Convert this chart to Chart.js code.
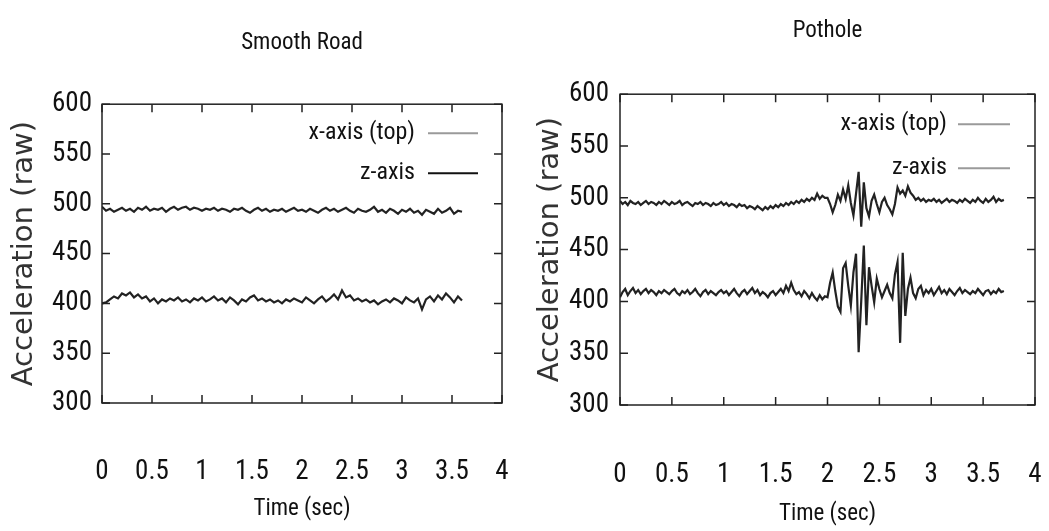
<!DOCTYPE html>
<html>
<head>
<meta charset="utf-8">
<script src="https://cdn.jsdelivr.net/npm/chart.js@4.4.1/dist/chart.umd.min.js"></script>
<style>
  html, body { margin: 0; padding: 0; background: #fff; }
  #wrap { position: relative; width: 1049px; height: 531px; overflow: hidden; }
  #smooth { position: absolute; left: 0; top: 0; }
  #pothole { position: absolute; left: 525px; top: 0; }
</style>
</head>
<body>
<div id="wrap">
  <canvas id="smooth" width="520" height="531"></canvas>
  <canvas id="pothole" width="524" height="531"></canvas>
</div>
<script>
// sampling steps (sec) for the two recordings
var smoothStep = 0.04;
var potholeStep = 0.025;

var xTicks = [0, 0.5, 1, 1.5, 2, 2.5, 3, 3.5, 4];
var yTicks = [300, 350, 400, 450, 500, 550, 600];
var seriesLabels = ['x-axis (top)', 'z-axis'];

// Smooth road, raw acceleration
var smoothX = [
  497,493,495,492,494,496,493,495,492,496,
  494,497,493,495,494,496,492,495,497,494,
  496,497,494,496,495,493,495,494,496,493,
  495,494,492,495,494,496,493,491,494,496,
  493,495,492,494,493,495,492,494,496,493,
  494,492,495,493,491,494,496,493,495,492,
  494,496,493,491,495,493,492,494,497,492,
  494,491,495,493,490,494,492,495,491,493,
  489,494,492,490,495,491,493,496,490,493,
  492
];
var smoothZ = [
  400,401,404,407,405,410,408,411,406,409,
  405,407,402,405,400,404,402,405,403,406,
  402,404,401,405,403,406,402,404,407,403,
  405,401,406,403,399,404,402,406,408,403,
  405,402,404,401,403,400,404,402,405,403,
  401,406,403,400,404,407,402,405,409,404,
  413,406,408,403,405,402,404,401,403,399,
  402,404,401,405,403,400,406,403,401,405,
  394,404,407,402,408,404,410,406,401,407,
  403
];

// Pothole, raw acceleration
var potholeX = [
  497,494,496,493,497,495,494,496,493,495,
  497,494,496,495,493,496,494,497,495,493,
  496,494,495,497,493,495,496,494,492,495,
  494,496,493,495,494,492,495,493,494,496,
  493,495,492,494,493,491,494,492,493,490,
  492,491,489,492,490,488,491,489,492,490,
  493,491,494,492,495,493,496,494,497,495,
  498,496,499,497,500,498,504,499,502,500,
  500,494,486,493,503,497,508,499,512,495,
  483,504,525,472,515,490,482,497,503,494,
  486,496,500,493,489,484,494,510,504,507,
  502,511,505,502,498,500,497,499,496,498,
  497,499,496,498,495,497,499,496,498,497,
  495,498,496,499,497,495,498,496,500,497,
  495,499,496,498,501,496,499,497,498
];
var potholeZ = [
  404,409,412,406,410,413,408,411,407,410,
  412,408,411,409,406,410,408,411,409,407,
  410,412,408,406,410,408,411,407,409,412,
  408,405,409,411,407,410,408,406,409,411,
  408,410,406,409,412,408,405,409,411,407,
  410,413,408,411,406,409,407,404,408,410,
  406,409,412,408,415,410,418,411,407,409,
  405,410,407,403,408,404,401,406,402,405,
  404,418,428,410,395,390,432,437,415,396,
  428,446,351,400,454,377,433,415,399,422,
  412,404,410,416,408,403,426,438,360,447,
  386,412,423,408,403,412,415,406,411,408,
  412,406,410,414,408,411,407,412,409,406,
  410,413,408,411,409,407,410,408,412,409,
  406,410,411,407,410,408,412,409,410
];

function toPoints(values, step) {
  return values.map(function (v, i) { return { x: +(i * step).toFixed(3), y: v }; });
}

var narrow = "'Liberation Sans Narrow', 'Arial Narrow', 'Roboto Condensed', 'DejaVu Sans Condensed', sans-serif";

// gnuplot style frame with inward ticks on all four sides
var framePlugin = {
  id: 'frame',
  afterDatasetsDraw: function (chart) {
    var ctx = chart.ctx, a = chart.chartArea;
    var xs = chart.scales.x, ys = chart.scales.y;
    var len = 8;
    ctx.save();
    ctx.strokeStyle = '#222';
    ctx.lineWidth = 1.5;
    ctx.strokeRect(a.left, a.top, a.right - a.left, a.bottom - a.top);
    ctx.beginPath();
    xs.ticks.forEach(function (t) {
      var px = xs.getPixelForValue(t.value);
      ctx.moveTo(px, a.bottom); ctx.lineTo(px, a.bottom - len);
      ctx.moveTo(px, a.top); ctx.lineTo(px, a.top + len);
    });
    ys.ticks.forEach(function (t) {
      var py = ys.getPixelForValue(t.value);
      ctx.moveTo(a.left, py); ctx.lineTo(a.left + len, py);
      ctx.moveTo(a.right, py); ctx.lineTo(a.right - len, py);
    });
    ctx.stroke();
    ctx.restore();
  }
};

// key drawn inside the plot, right aligned like gnuplot
var keyPlugin = {
  id: 'key',
  afterDraw: function (chart, args, opts) {
    var ctx = chart.ctx, a = chart.chartArea;
    ctx.save();
    ctx.font = '24px ' + narrow;
    ctx.textAlign = 'right';
    ctx.textBaseline = 'middle';
    chart.data.datasets.forEach(function (ds, i) {
      var y = a.top + opts.rows[i];
      ctx.fillStyle = '#111';
      ctx.fillText(ds.label, a.right - opts.textRight, y);
      ctx.strokeStyle = ds.keyColor;
      ctx.lineWidth = 2;
      ctx.beginPath();
      ctx.moveTo(a.right - opts.swatchFrom, y);
      ctx.lineTo(a.right - opts.swatchTo, y);
      ctx.stroke();
    });
    ctx.restore();
  }
};

function makeChart(id, title, step, xVals, zVals, keyColors, lay) {
  return new Chart(document.getElementById(id), {
    type: 'line',
    data: {
      datasets: [
        {
          label: seriesLabels[0],
          data: toPoints(xVals, step),
          borderColor: '#222',
          keyColor: keyColors[0],
          borderWidth: 2.2,
          pointRadius: 0,
          tension: 0
        },
        {
          label: seriesLabels[1],
          data: toPoints(zVals, step),
          borderColor: '#222',
          keyColor: keyColors[1],
          borderWidth: 2.2,
          pointRadius: 0,
          tension: 0
        }
      ]
    },
    options: {
      animation: false,
      responsive: false,
      layout: { padding: { left: 0, right: lay.right, top: 0, bottom: 0 } },
      plugins: {
        legend: { display: false },
        tooltip: { enabled: false },
        title: {
          display: true,
          fullSize: false,
          text: title,
          color: '#111',
          font: { family: narrow, size: 23, weight: 'normal' },
          padding: { top: lay.titleTop, bottom: lay.titleBottom }
        },
        key: lay.key
      },
      scales: {
        x: {
          type: 'linear',
          min: 0,
          max: 4,
          afterBuildTicks: function (s) { s.ticks = xTicks.map(function (v) { return { value: v }; }); },
          afterFit: function (s) { s.height = lay.xHeight; },
          // invisible tick marks only push the labels down
          grid: { display: true, drawOnChartArea: false, drawTicks: true, tickLength: lay.xPad, color: 'rgba(0,0,0,0)' },
          border: { display: false },
          ticks: {
            color: '#111',
            padding: 0,
            maxRotation: 0,
            autoSkip: false,
            font: { family: narrow, size: 27 },
            callback: function (v) { return String(v); }
          },
          title: {
            display: true,
            text: 'Time (sec)',
            color: '#111',
            font: { family: narrow, size: 23 },
            padding: { top: 0, bottom: lay.xTitleBottom }
          }
        },
        y: {
          min: 300,
          max: 600,
          afterBuildTicks: function (s) { s.ticks = yTicks.map(function (v) { return { value: v }; }); },
          afterFit: function (s) { s.width = lay.yWidth; },
          grid: { display: false, drawTicks: false },
          border: { display: false },
          ticks: {
            color: '#111',
            padding: lay.yPad,
            autoSkip: false,
            font: { family: narrow, size: 27 }
          },
          title: {
            display: true,
            text: 'Acceleration (raw)',
            color: '#333',
            font: { family: "'DejaVu Sans', sans-serif", size: 29 },
            padding: { top: lay.yTitleTop, bottom: 0 }
          }
        }
      }
    },
    plugins: [framePlugin, keyPlugin]
  });
}

var smoothChart = makeChart('smooth', 'Smooth Road', smoothStep, smoothX, smoothZ, ['#9a9a9a', '#111'], {
  right: 18, titleTop: 29, titleBottom: 47.6, xHeight: 128, xPad: 53, xTitleBottom: 8,
  yWidth: 102, yPad: 10, yTitleTop: 7,
  key: { textRight: 87, swatchFrom: 74, swatchTo: 24, rows: [29, 69] }
});

var potholeChart = makeChart('pothole', 'Pothole', potholeStep, potholeX, potholeZ, ['#9a9a9a', '#9a9a9a'], {
  right: 14, titleTop: 17, titleBottom: 49.6, xHeight: 126, xPad: 54, xTitleBottom: 3,
  yWidth: 95, yPad: 11, yTitleTop: 8,
  key: { textRight: 88, swatchFrom: 77, swatchTo: 25, rows: [30, 74] }
});
</script>
</body>
</html>
